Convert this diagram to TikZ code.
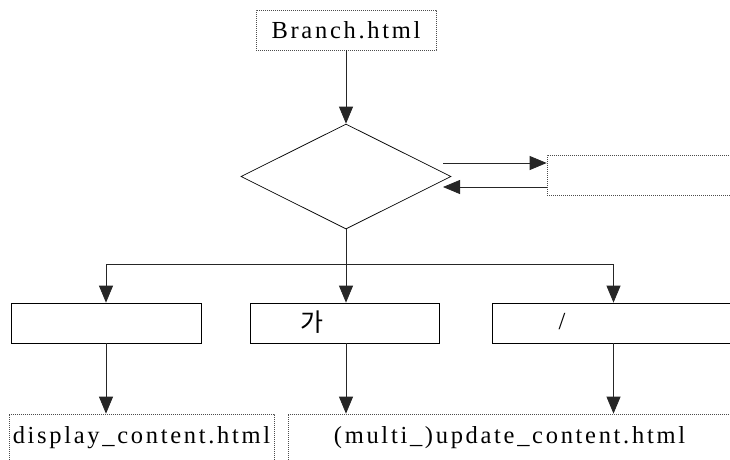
\documentclass[tikz,border=0pt]{standalone}
\usepackage{fontspec}
\setmainfont[LetterSpace=11]{Liberation Serif}
\newfontfamily\krfont{Noto Sans CJK KR}
\usepackage{tikz}
\usetikzlibrary{positioning, arrows.meta, shapes.geometric}
\begin{document}
\begin{tikzpicture}[x=1pt, y=-1pt, font=\fontsize{24.5}{28}\selectfont,
        box/.style={draw, line width=0.7pt, minimum height=40pt, inner sep=0pt, align=center},
        filebox/.style={box, draw=black!70, dash pattern=on 1.2pt off 0.8pt},
        arr/.style={-{Triangle[length=17pt, width=14pt]}, line width=0.8pt, draw=black!85}]
        \useasboundingbox (0,0) rectangle (730,459);
        \node[filebox, minimum width=180pt] (branch) at (346,30) {Branch.html};
        \node[draw, diamond, line width=0.7pt, minimum width=210pt, minimum height=105pt, inner sep=0pt, aspect=2] (check) at (346,176.5) {};
        \node[filebox, minimum width=188pt] (side) at (641,175) {};
        \node[box, minimum width=190pt] (view) at (106,323) {};
        \node[box, minimum width=189pt] (edit) at (344.5,323) {};
        \node[box, minimum width=243pt] (remove) at (613.5,323) {};
        \node[filebox, minimum width=265pt, minimum height=47pt] (display) at (141.5,437.5) {display\_content.html};
        \node[filebox, minimum width=443pt, minimum height=47pt] (update) at (509.5,437.5) {(multi\_)update\_content.html};
        \node[font=\krfont\fontsize{25}{28}\selectfont] (editlbl) at (312,322) {가};
        \node (removelbl) at (562,322) {/};
        \coordinate (outA) at (443,163);
        \coordinate (backA) at (443,187);
        \coordinate (split) at (346,264);
        \draw[arr] (branch) -- (check);
        \draw[arr] (outA) -- (outA -| side.west);
        \draw[arr] (backA -| side.west) -- (backA);
        \draw[arr] (check.south) -- (check.south |- edit.north);
        \draw[arr] (split) -| (view.north);
        \draw[arr] (split) -| (remove.north);
        \draw[arr] (view.south) -- (view.south |- display.north);
        \draw[arr] (check.south |- edit.south) -- (check.south |- update.north);
        \draw[arr] (remove.south) -- (remove.south |- update.north);
      \end{tikzpicture}
\end{document}
